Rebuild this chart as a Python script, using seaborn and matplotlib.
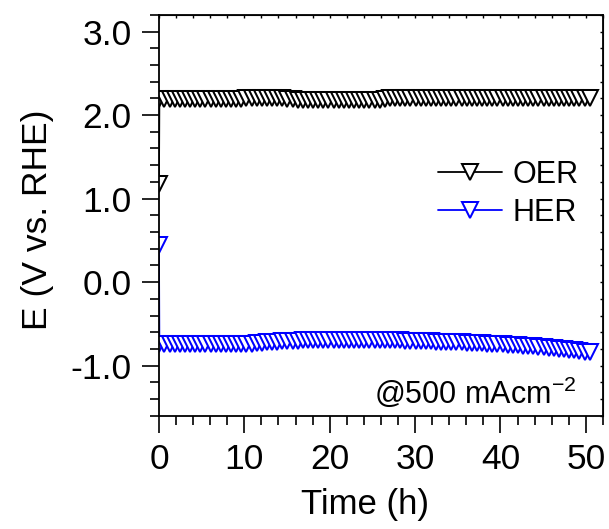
import numpy as np
import pandas as pd
import matplotlib
matplotlib.use("Agg")
import matplotlib.pyplot as plt
import seaborn as sns
from matplotlib.ticker import MultipleLocator, FixedLocator

sns.set_style("white")
plt.rcParams["font.family"] = ["Liberation Sans", "DejaVu Sans"]
plt.rcParams["mathtext.fontset"] = "custom"
plt.rcParams["mathtext.rm"] = "Liberation Sans"
plt.rcParams["mathtext.it"] = "Liberation Sans"
plt.rcParams["text.color"] = "black"
plt.rcParams["axes.labelcolor"] = "black"
plt.rcParams["xtick.color"] = "black"
plt.rcParams["ytick.color"] = "black"

# time grid (h): first point at 0, then every 0.6 h
time_h = np.concatenate([[0.0], np.round(0.05 + np.arange(85) * 0.6, 2)])

# OER potential (V vs RHE)
oer = [1.18,
       2.19, 2.19, 2.19, 2.19, 2.19, 2.19, 2.19, 2.19, 2.19, 2.19,
       2.19, 2.19, 2.19, 2.19, 2.19, 2.19, 2.195, 2.20, 2.205, 2.21,
       2.21, 2.21, 2.21, 2.205, 2.20, 2.195, 2.19, 2.185, 2.18, 2.18,
       2.18, 2.18, 2.18, 2.18, 2.18, 2.18, 2.18, 2.18, 2.18, 2.18,
       2.18, 2.18, 2.18, 2.185, 2.195, 2.20, 2.205, 2.205, 2.205, 2.205,
       2.205, 2.205, 2.205, 2.205, 2.205, 2.205, 2.205, 2.205, 2.205, 2.205,
       2.205, 2.205, 2.205, 2.205, 2.205, 2.205, 2.205, 2.205, 2.205, 2.205,
       2.205, 2.205, 2.205, 2.205, 2.205, 2.205, 2.205, 2.205, 2.205, 2.205,
       2.205, 2.205, 2.205, 2.205, 2.205]

# HER potential (V vs RHE)
her = [0.45,
       -0.735, -0.735, -0.735, -0.735, -0.735, -0.735, -0.735, -0.735, -0.735, -0.735,
       -0.735, -0.735, -0.735, -0.735, -0.735, -0.735, -0.735, -0.735, -0.735, -0.73,
       -0.725, -0.72, -0.715, -0.712, -0.708, -0.705, -0.703, -0.70, -0.698, -0.697,
       -0.696, -0.695, -0.695, -0.695, -0.695, -0.695, -0.695, -0.695, -0.695, -0.695,
       -0.695, -0.695, -0.695, -0.695, -0.695, -0.696, -0.697, -0.698, -0.70, -0.702,
       -0.704, -0.706, -0.708, -0.71, -0.712, -0.714, -0.716, -0.718, -0.72, -0.722,
       -0.725, -0.728, -0.73, -0.733, -0.736, -0.739, -0.742, -0.745, -0.748, -0.752,
       -0.756, -0.76, -0.764, -0.768, -0.772, -0.778, -0.784, -0.79, -0.797, -0.804,
       -0.811, -0.818, -0.825, -0.832, -0.838]

df = pd.DataFrame({"time": time_h, "OER": oer, "HER": her})

fig = plt.figure(figsize=(6.09, 5.29), dpi=100)
ax = fig.add_axes([0.261, 0.214, 0.729, 0.758])

sns.lineplot(data=df, x="time", y="OER", ax=ax, color="black", lw=1.3,
             marker="v", markersize=12, mfc="white", mec="black", mew=1.45,
             label="OER")
sns.lineplot(data=df, x="time", y="HER", ax=ax, color="blue", lw=1.3,
             marker="v", markersize=12, mfc="white", mec="blue", mew=1.45,
             label="HER")

ax.set_xlim(0, 52)
ax.set_ylim(-1.6, 3.2)
ax.xaxis.set_major_locator(FixedLocator([0, 10, 20, 30, 40, 50]))
ax.xaxis.set_minor_locator(MultipleLocator(2))
ax.yaxis.set_major_locator(FixedLocator([-1, 0, 1, 2, 3]))
ax.yaxis.set_minor_locator(MultipleLocator(0.2))
ax.set_yticklabels(["-1.0", "0.0", "1.0", "2.0", "3.0"])

ax.tick_params(axis="both", which="both", bottom=True, left=True)
ax.tick_params(axis="both", which="major", direction="out", length=12.5,
               width=1.2, labelsize=25.5, pad=7)
ax.tick_params(axis="both", which="minor", direction="out", length=6.5,
               width=1.2)
for s in ax.spines.values():
    s.set_linewidth(1.3)
    s.set_color("black")

# small ticks on the top and right frame
top = ax.secondary_xaxis("top")
top.xaxis.set_major_locator(MultipleLocator(2))
top.tick_params(direction="in", top=True, length=2.5, width=1, labeltop=False)
right = ax.secondary_yaxis("right")
right.yaxis.set_major_locator(MultipleLocator(0.2))
right.tick_params(direction="in", right=True, length=2.5, width=1, labelright=False)

ax.set_xlabel("Time (h)", fontsize=25)
ax.set_ylabel("E (V vs. RHE)", fontsize=25.5)
ax.xaxis.set_label_coords(0.464, -0.18)
ax.yaxis.set_label_coords(-0.236, 0.49)

ax.legend(loc="upper right", bbox_to_anchor=(0.973, 0.668), frameon=False,
          fontsize=22, handlelength=2.1, handletextpad=0.35, labelspacing=0.25,
          borderaxespad=0)

ax.text(0.94, 0.032, "@500 mAcm$^{-2}$", transform=ax.transAxes,
        ha="right", va="baseline", fontsize=22)

fig.savefig("out.png", dpi=100)
